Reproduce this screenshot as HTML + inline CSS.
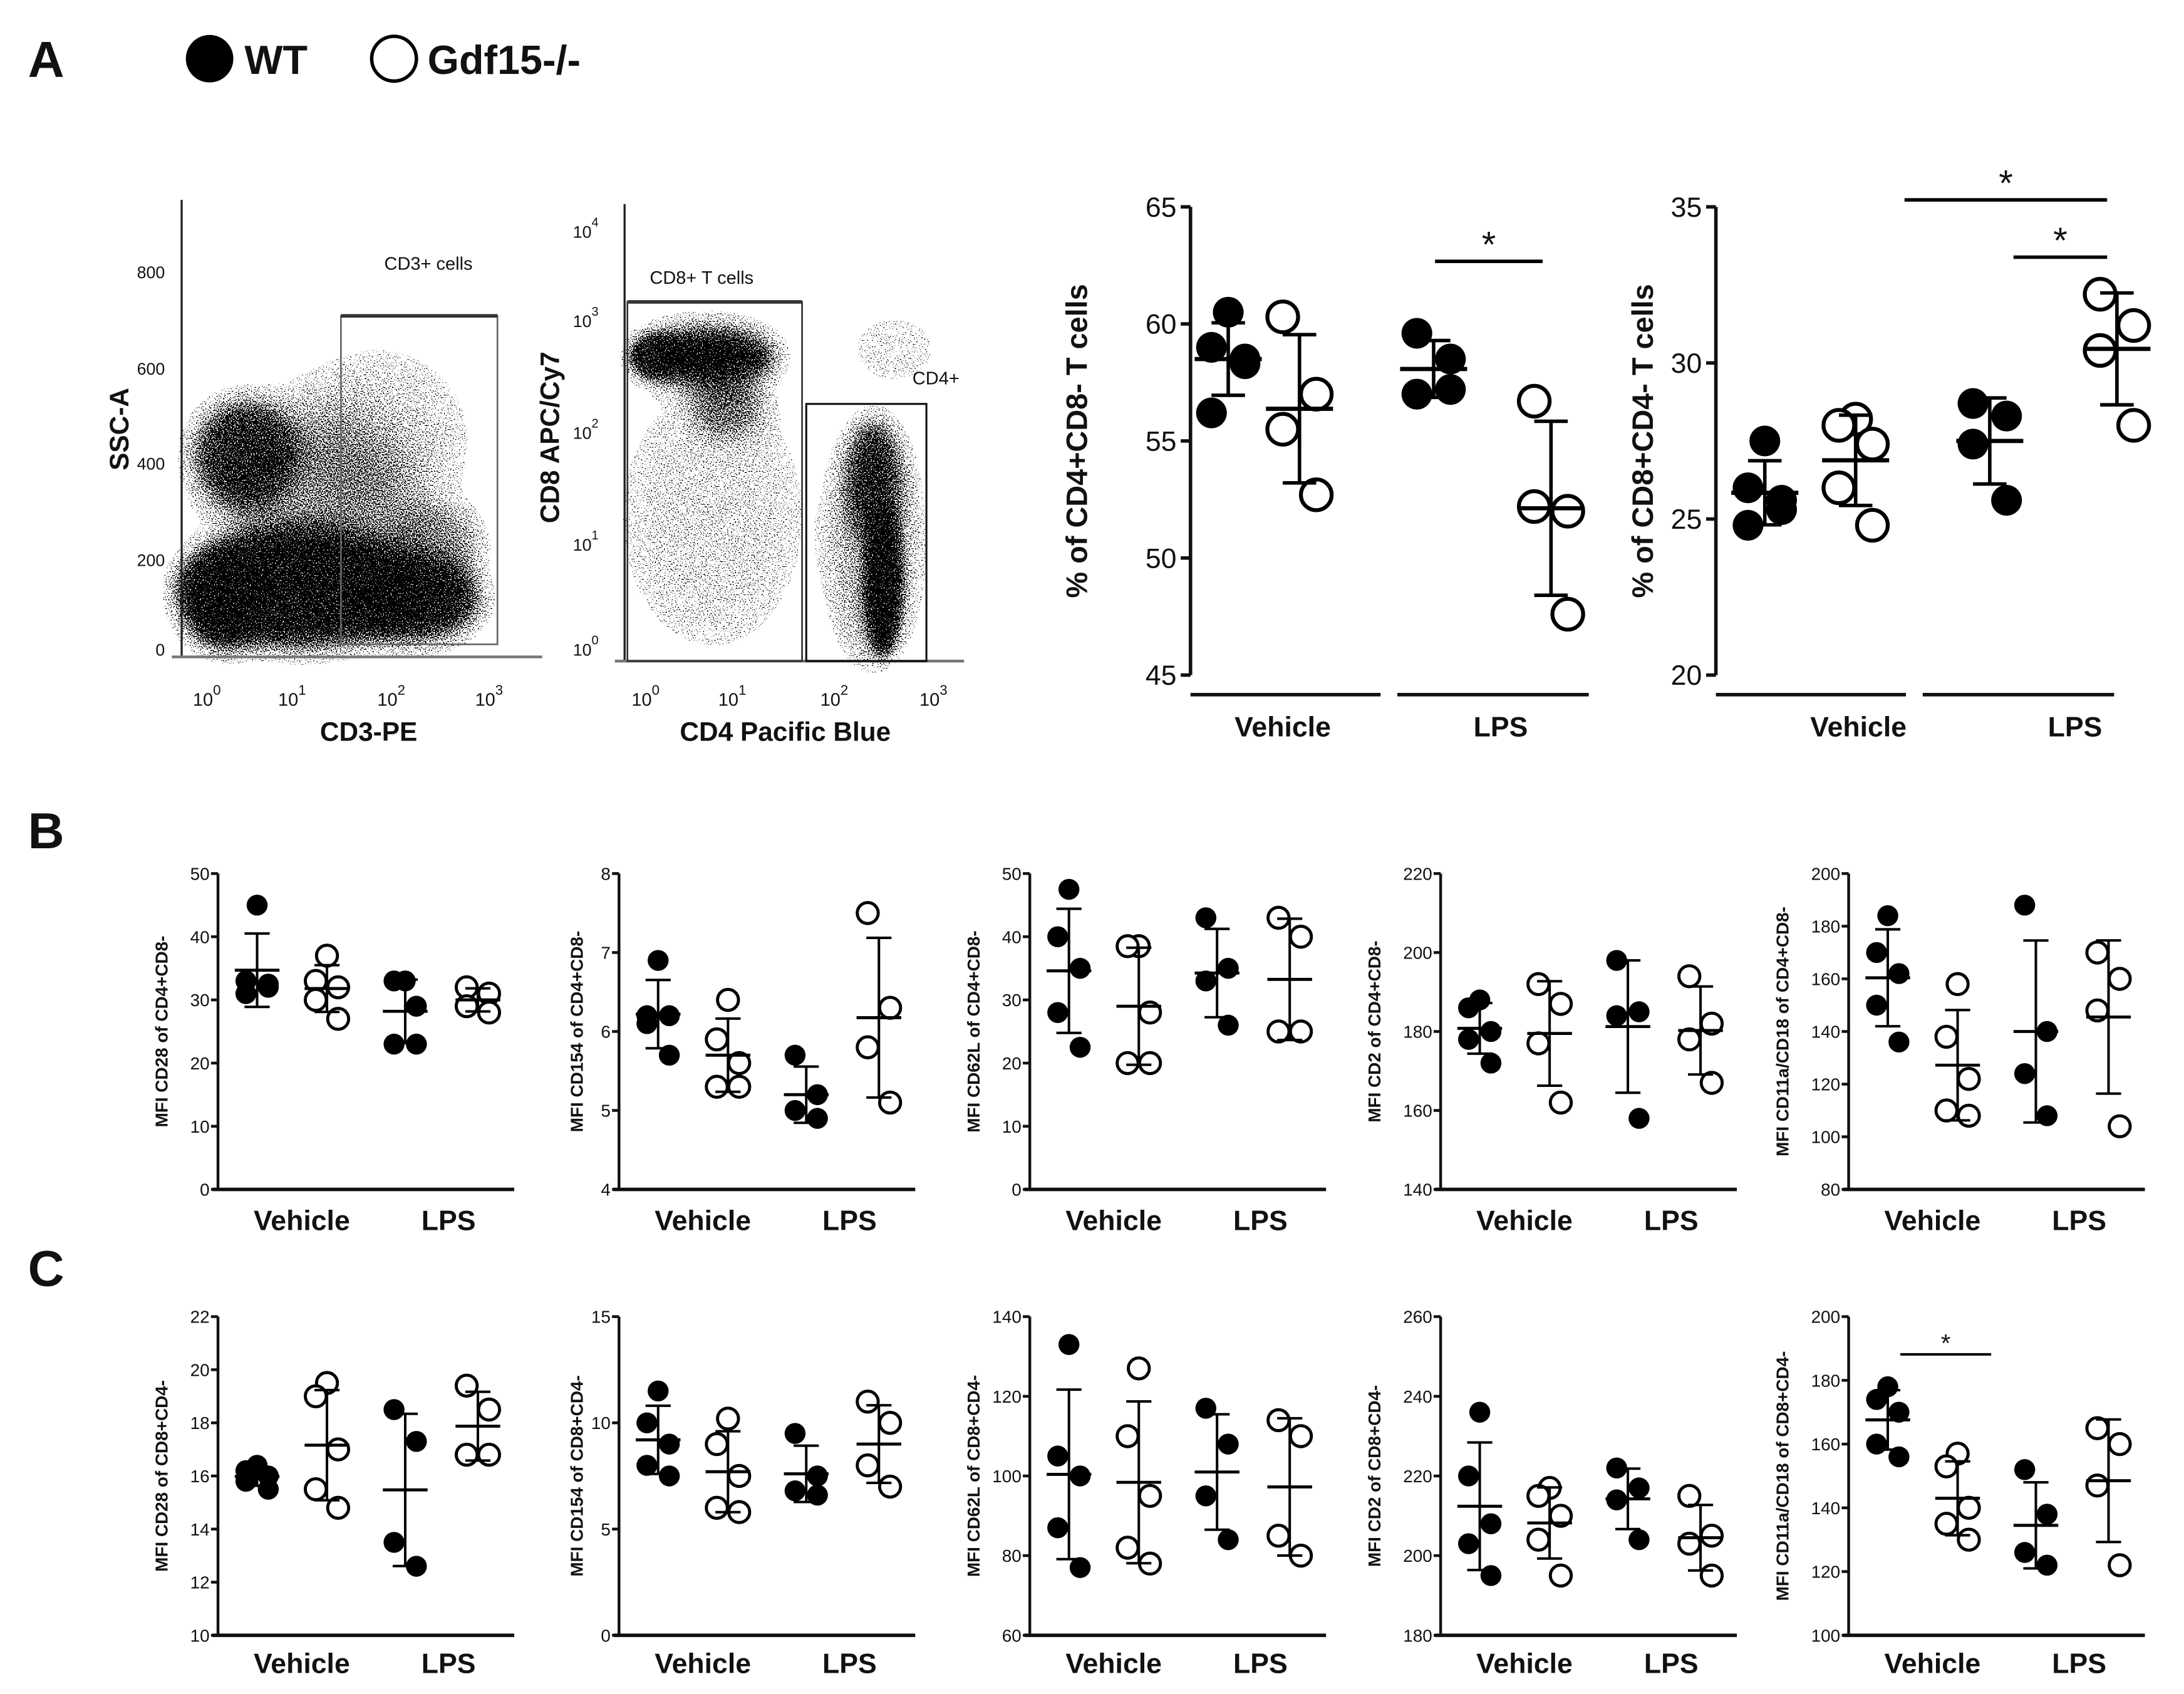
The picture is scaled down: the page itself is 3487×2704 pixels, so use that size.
<!DOCTYPE html>
<html><head><meta charset="utf-8"><style>
html,body{margin:0;padding:0;background:#fff}
svg{display:block}
text{font-family:"Liberation Sans",Arial,sans-serif;fill:#111}
</style></head><body>
<svg id="fig" xmlns="http://www.w3.org/2000/svg" width="3487" height="2704" viewBox="0 0 1563 1212" preserveAspectRatio="none">
<defs>
<filter id="blur3" x="-50%" y="-50%" width="200%" height="200%"><feGaussianBlur stdDeviation="4"/></filter>
<filter id="blur8" x="-50%" y="-50%" width="200%" height="200%"><feGaussianBlur stdDeviation="9"/></filter>
<filter id="blur16" x="-50%" y="-50%" width="200%" height="200%"><feGaussianBlur stdDeviation="18"/></filter>
<filter id="speck" x="0" y="0" width="1563" height="1212" filterUnits="userSpaceOnUse" primitiveUnits="userSpaceOnUse">
<feTurbulence type="fractalNoise" baseFrequency="1.1" numOctaves="1" seed="7" result="noise"/>
<feColorMatrix in="noise" type="matrix" values="0 0 0 0 0  0 0 0 0 0  0 0 0 0 0  3 0 0 0 -1" result="na"/>
<feComposite in="SourceAlpha" in2="na" operator="arithmetic" k2="1" k3="-0.9" k4="0.4" result="d"/>
<feComponentTransfer in="d" result="t"><feFuncA type="discrete" tableValues="0 1"/></feComponentTransfer>
<feColorMatrix in="t" type="matrix" values="0 0 0 0 0  0 0 0 0 0  0 0 0 0 0  0 0 0 1 0"/>
</filter>
</defs>
<rect width="1563" height="1212" fill="#fff"/>
<g>
<text x="20" y="55" font-size="36" font-weight="bold">A</text>
<circle cx="150" cy="42" r="17" fill="#000"/>
<text x="175" y="53" font-size="29" font-weight="bold">WT</text>
<circle cx="282" cy="42" r="16" fill="#fff" stroke="#000" stroke-width="2.5"/>
<text x="306" y="53" font-size="29" font-weight="bold">Gdf15-/-</text>
</g>
<text x="20" y="607" font-size="36" font-weight="bold">B</text>
<text x="20" y="920" font-size="36" font-weight="bold">C</text>

<!-- Flow plot 1 -->
<g>
<g filter="url(#speck)">
<ellipse cx="215" cy="420" rx="88" ry="45" fill="#000" opacity="0.95" filter="url(#blur8)"/>
<ellipse cx="160" cy="430" rx="30" ry="35" fill="#000" filter="url(#blur8)"/>
<ellipse cx="295" cy="428" rx="50" ry="32" fill="#000" opacity="0.95" filter="url(#blur8)"/>
<ellipse cx="175" cy="325" rx="38" ry="40" fill="#000" opacity="0.8" filter="url(#blur8)"/>
<ellipse cx="225" cy="350" rx="75" ry="60" fill="#000" opacity="0.45" filter="url(#blur16)"/>
<ellipse cx="270" cy="315" rx="65" ry="65" fill="#000" opacity="0.22" filter="url(#blur16)"/>
<ellipse cx="310" cy="390" rx="35" ry="30" fill="#000" opacity="0.5" filter="url(#blur8)"/>
</g>
<line x1="130" y1="143" x2="130" y2="470" stroke="#222" stroke-width="1.5"/>
<line x1="123" y1="470" x2="388" y2="470" stroke="#777" stroke-width="2"/>
<rect x="244" y="226" width="112" height="235" fill="none" stroke="#666" stroke-width="1.2"/>
<line x1="244" y1="226" x2="356" y2="226" stroke="#333" stroke-width="2.5"/>
<text x="275" y="193" font-size="13" fill="#333">CD3+ cells</text>
<g font-size="12" fill="#333" text-anchor="end">
<text x="118" y="199">800</text><text x="118" y="268">600</text><text x="118" y="336">400</text><text x="118" y="405">200</text><text x="118" y="469">0</text>
</g>
<g font-size="13" fill="#333">
<text x="138" y="505">10<tspan dy="-8" font-size="10">0</tspan></text>
<text x="199" y="505">10<tspan dy="-8" font-size="10">1</tspan></text>
<text x="270" y="505">10<tspan dy="-8" font-size="10">2</tspan></text>
<text x="340" y="505">10<tspan dy="-8" font-size="10">3</tspan></text>
</g>
<text x="229" y="530" font-size="19" font-weight="bold">CD3-PE</text>
<text transform="translate(92,307) rotate(-90)" text-anchor="middle" font-size="19" font-weight="bold">SSC-A</text>
</g>

<!-- Flow plot 2 -->
<g>
<g filter="url(#speck)">
<ellipse cx="505" cy="255" rx="52" ry="22" fill="#000" filter="url(#blur8)"/>
<ellipse cx="470" cy="255" rx="20" ry="16" fill="#000" opacity="0.8" filter="url(#blur3)"/>
<ellipse cx="520" cy="290" rx="28" ry="24" fill="#000" opacity="0.55" filter="url(#blur8)"/>
<ellipse cx="625" cy="345" rx="18" ry="45" fill="#000" opacity="0.85" filter="url(#blur8)"/>
<ellipse cx="632" cy="415" rx="14" ry="55" fill="#000" filter="url(#blur3)"/>
<ellipse cx="625" cy="390" rx="32" ry="88" fill="#000" opacity="0.4" filter="url(#blur8)"/>
<ellipse cx="510" cy="370" rx="65" ry="95" fill="#000" opacity="0.2" filter="url(#blur16)"/>
<ellipse cx="640" cy="250" rx="40" ry="30" fill="#000" opacity="0.16" filter="url(#blur16)"/>
</g>
<line x1="447" y1="146" x2="447" y2="473" stroke="#222" stroke-width="1.5"/>
<line x1="440" y1="473" x2="690" y2="473" stroke="#777" stroke-width="2"/>
<rect x="449" y="216" width="125" height="257" fill="none" stroke="#333" stroke-width="1.2"/>
<line x1="449" y1="216" x2="574" y2="216" stroke="#333" stroke-width="2.5"/>
<rect x="577" y="289" width="86" height="184" fill="none" stroke="#111" stroke-width="1.4"/>
<text x="465" y="203" font-size="13" fill="#333">CD8+ T cells</text>
<text x="653" y="275" font-size="13" fill="#333">CD4+</text>
<g font-size="12" fill="#333">
<text x="410" y="170">10<tspan dy="-8" font-size="9">4</tspan></text>
<text x="410" y="234">10<tspan dy="-8" font-size="9">3</tspan></text>
<text x="410" y="314">10<tspan dy="-8" font-size="9">2</tspan></text>
<text x="410" y="394">10<tspan dy="-8" font-size="9">1</tspan></text>
<text x="410" y="469">10<tspan dy="-8" font-size="9">0</tspan></text>
</g>
<g font-size="13" fill="#333">
<text x="452" y="505">10<tspan dy="-8" font-size="10">0</tspan></text>
<text x="514" y="505">10<tspan dy="-8" font-size="10">1</tspan></text>
<text x="587" y="505">10<tspan dy="-8" font-size="10">2</tspan></text>
<text x="658" y="505">10<tspan dy="-8" font-size="10">3</tspan></text>
</g>
<text x="562" y="530" text-anchor="middle" font-size="19" font-weight="bold">CD4 Pacific Blue</text>
<text transform="translate(400,313) rotate(-90)" text-anchor="middle" font-size="19" font-weight="bold">CD8 APC/Cy7</text>
</g>
<g id="charts"></g>
</svg>
<script>
// Panel A dot plots
const groupsA = ["WT Vehicle","KO Vehicle","WT LPS","KO LPS"];
const a1Ticks = [45,50,55,60,65];
const a1WTVeh = [60.5,59.0,58.5,56.2,58.3];
const a1KOVeh = [60.3,57.0,55.5,52.7];
const a1WTLps = [59.6,58.5,57.0,57.2];
const a1KOLps = [56.7,52.0,52.2,47.6];
const a2Ticks = [20,25,30,35];
const a2WTVeh = [27.5,26.0,25.6,24.8,25.3];
const a2KOVeh = [28.2,28.0,27.4,26.0,24.8];
const a2WTLps = [28.7,28.3,27.4,25.6];
const a2KOLps = [32.2,31.2,30.4,28.0];
// Panel B
const b1Ticks = [0,10,20,30,40,50];
const b1Vals = [[45,33,32,31,32.5],[37,33,32,30,27],[33,33,29,23,23],[32,31,29,28]];
const b2Ticks = [4,5,6,7,8];
const b2Vals = [[6.9,6.2,6.2,6.1,5.7],[6.4,5.9,5.6,5.3,5.3],[5.7,5.2,5.0,4.9],[7.5,6.3,5.8,5.1]];
const b3Ticks = [0,10,20,30,40,50];
const b3Vals = [[47.5,40,35,28,22.5],[38.5,38.5,28,20,20],[43,35,33,26],[43,40,25,25]];
const b4Ticks = [140,160,180,200,220];
const b4Vals = [[188,186,180,178,172],[192,187,177,162],[198,185,184,158],[194,182,178,167]];
const b5Ticks = [80,100,120,140,160,180,200];
const b5Vals = [[184,170,162,150,136],[158,138,122,110,108],[188,140,124,108],[170,160,148,104]];
// Panel C
const c1Ticks = [10,12,14,16,18,20,22];
const c1Vals = [[16.4,16.2,16.0,15.8,15.5],[19.5,19.0,17.0,15.5,14.8],[18.5,17.3,13.5,12.6],[19.4,18.5,16.8,16.8]];
const c2Ticks = [0,5,10,15];
const c2Vals = [[11.5,10.0,9.0,8.0,7.5],[10.2,9.0,7.5,6.0,5.8],[9.5,7.5,6.8,6.6],[11.0,10.0,8.0,7.0]];
const c3Ticks = [60,80,100,120,140];
const c3Vals = [[133,105,100,87,77],[127,110,95,82,78],[117,108,95,84],[114,110,85,80]];
const c4Ticks = [180,200,220,240,260];
const c4Vals = [[236,220,208,203,195],[217,215,210,204,195],[222,217,214,204],[215,205,203,195]];
const c5Ticks = [100,120,140,160,180,200];
const c5Vals = [[178,174,170,160,156],[157,153,140,135,130],[152,138,126,122],[165,160,147,122]];
const yTitlesB = ["MFI CD28 of CD4+CD8-","MFI CD154 of CD4+CD8-","MFI CD62L of CD4+CD8-","MFI CD2 of CD4+CD8-","MFI CD11a/CD18 of CD4+CD8-"];
const yTitlesC = ["MFI CD28 of CD8+CD4-","MFI CD154 of CD8+CD4-","MFI CD62L of CD8+CD4-","MFI CD2 of CD8+CD4-","MFI CD11a/CD18 of CD8+CD4-"];

const NS="http://www.w3.org/2000/svg";
const root=document.getElementById('charts');
function mk(tag,attrs,parent){const e=document.createElementNS(NS,tag);for(const k in attrs)e.setAttribute(k,attrs[k]);(parent||root).appendChild(e);return e;}
function stats(v){const m=v.reduce((a,b)=>a+b,0)/v.length;const s=Math.sqrt(v.reduce((a,b)=>a+(b-m)*(b-m),0)/(v.length-1));return [m,s];}

function drawPlot(o){
  const g=mk('g',{});
  
  
  const lo=o.ticks[0],hi=o.ticks[o.ticks.length-1];
  const y=v=>o.bot-(v-lo)/(hi-lo)*(o.bot-o.top);
  const ax=mk('line',{x1:o.ax,y1:o.top,x2:o.ax,y2:o.bot,stroke:'#111','stroke-width':o.big?2.5:2},g);
  
  
  o.ticks.forEach(t=>{
    mk('line',{x1:o.ax-(o.big?7:5),y1:y(t),x2:o.ax,y2:y(t),stroke:'#111','stroke-width':o.big?2.5:2},g);
    const tl=mk('text',{x:o.ax-(o.big?10:6),y:y(t)+(o.big?7:4.5),'text-anchor':'end','font-size':o.big?20:12.5,fill:'#222'},g);
    tl.textContent=t;
    
    
  });
  if(o.big){
    [[0,136],[148,285]].forEach(s=>{mk('line',{x1:o.ax+s[0],y1:497,x2:o.ax+s[1],y2:497,stroke:'#111','stroke-width':2.5},g);});
  } else {
    const xl=mk('line',{x1:o.ax-4,y1:o.bot,x2:o.ax+212,y2:o.bot,stroke:'#111','stroke-width':2.5},g);
    
    
  }
  const labs=[["Vehicle",o.vehX],["LPS",o.lpsX]];
  labs.forEach(l=>{const t=mk('text',{x:o.ax+l[1],y:o.labY,'text-anchor':'middle','font-size':20,'font-weight':'bold'},g);t.textContent=l[0];
    
    });
  const tt=mk('text',{transform:`translate(${o.ax-o.titleOff},${(o.top+o.bot)/2}) rotate(-90)`,'text-anchor':'middle','font-size':o.big?21:12.5,'font-weight':'bold'},g);
  tt.textContent=o.title;
  
  
  const r=o.big?11:7.5, jw=o.big?12:8;
  o.vals.forEach((vals,gi)=>{
    const cx=o.ax+o.gx[gi];
    const filled=gi%2===0;
    const pat=vals.length===5?[0,-1,1,-1,1]:[-1,1,-1,1];
    vals.forEach((v,i)=>{
      const c=mk('circle',{cx:cx+pat[i]*jw,cy:y(v),r:r,fill:filled?'#000':'#fff',stroke:'#000','stroke-width':filled?0:(o.big?2.8:2.2)},g);
      
      
    });
    const [m,s]=stats(vals);
    const mw=o.big?24:16, cw=o.big?12:9, sw=o.big?2.5:1.8;
    const eb=mk('g',{stroke:'#000','stroke-width':sw},g);
    
    
    mk('line',{x1:cx,y1:y(m-s),x2:cx,y2:y(m+s)},eb);
    mk('line',{x1:cx-cw,y1:y(m+s),x2:cx+cw,y2:y(m+s)},eb);
    mk('line',{x1:cx-cw,y1:y(m-s),x2:cx+cw,y2:y(m-s)},eb);
    mk('line',{x1:cx-mw,y1:y(m),x2:cx+mw,y2:y(m),'stroke-width':sw*1.2},eb);
  });
  (o.sig||[]).forEach(sg=>{
    mk('line',{x1:sg[0],y1:sg[2],x2:sg[1],y2:sg[2],stroke:'#000','stroke-width':o.big?2.5:1.8},g);
    const st=mk('text',{x:(sg[0]+sg[1])/2,y:sg[2]-(o.big?3:2),'text-anchor':'middle','font-size':o.big?26:18},g);
    st.textContent='*';
    
    
  });
}
drawPlot({name:'plot-cd4-percent',big:true,ax:852,top:148,bot:483,ticks:a1Ticks,vals:[a1WTVeh,a1KOVeh,a1WTLps,a1KOLps],gx:[27,78,174,258],vehX:66,lpsX:222,labY:527,title:'% of CD4+CD8- T cells',titleOff:74,sig:[[1027,1104,187]]});
drawPlot({name:'plot-cd8-percent',big:true,ax:1228,top:148,bot:483,ticks:a2Ticks,vals:[a2WTVeh,a2KOVeh,a2WTLps,a2KOLps],gx:[35,100,196,287],vehX:102,lpsX:257,labY:527,title:'% of CD8+CD4- T cells',titleOff:45,sig:[[1363,1508,143],[1441,1508,184]]});
const axesX=[156,443,737,1031,1323];
const bVals=[b1Vals,b2Vals,b3Vals,b4Vals,b5Vals], bT=[b1Ticks,b2Ticks,b3Ticks,b4Ticks,b5Ticks];
const cVals=[c1Vals,c2Vals,c3Vals,c4Vals,c5Vals], cT=[c1Ticks,c2Ticks,c3Ticks,c4Ticks,c5Ticks];
const offs=[36,26,36,43,43];
for(let i=0;i<5;i++){
  drawPlot({name:'plot-b-'+(i+1),ax:axesX[i],top:625,bot:851,ticks:bT[i],vals:bVals[i],gx:[28,78,134,186],vehX:60,lpsX:165,labY:880,title:yTitlesB[i],titleOff:offs[i]});
  drawPlot({name:'plot-c-'+(i+1),ax:axesX[i],top:942,bot:1170,ticks:cT[i],vals:cVals[i],gx:[28,78,134,186],vehX:60,lpsX:165,labY:1197,title:yTitlesC[i],titleOff:offs[i],sig:i===4?[[1360,1425,969]]:[]});
}
</script>
</body></html>
